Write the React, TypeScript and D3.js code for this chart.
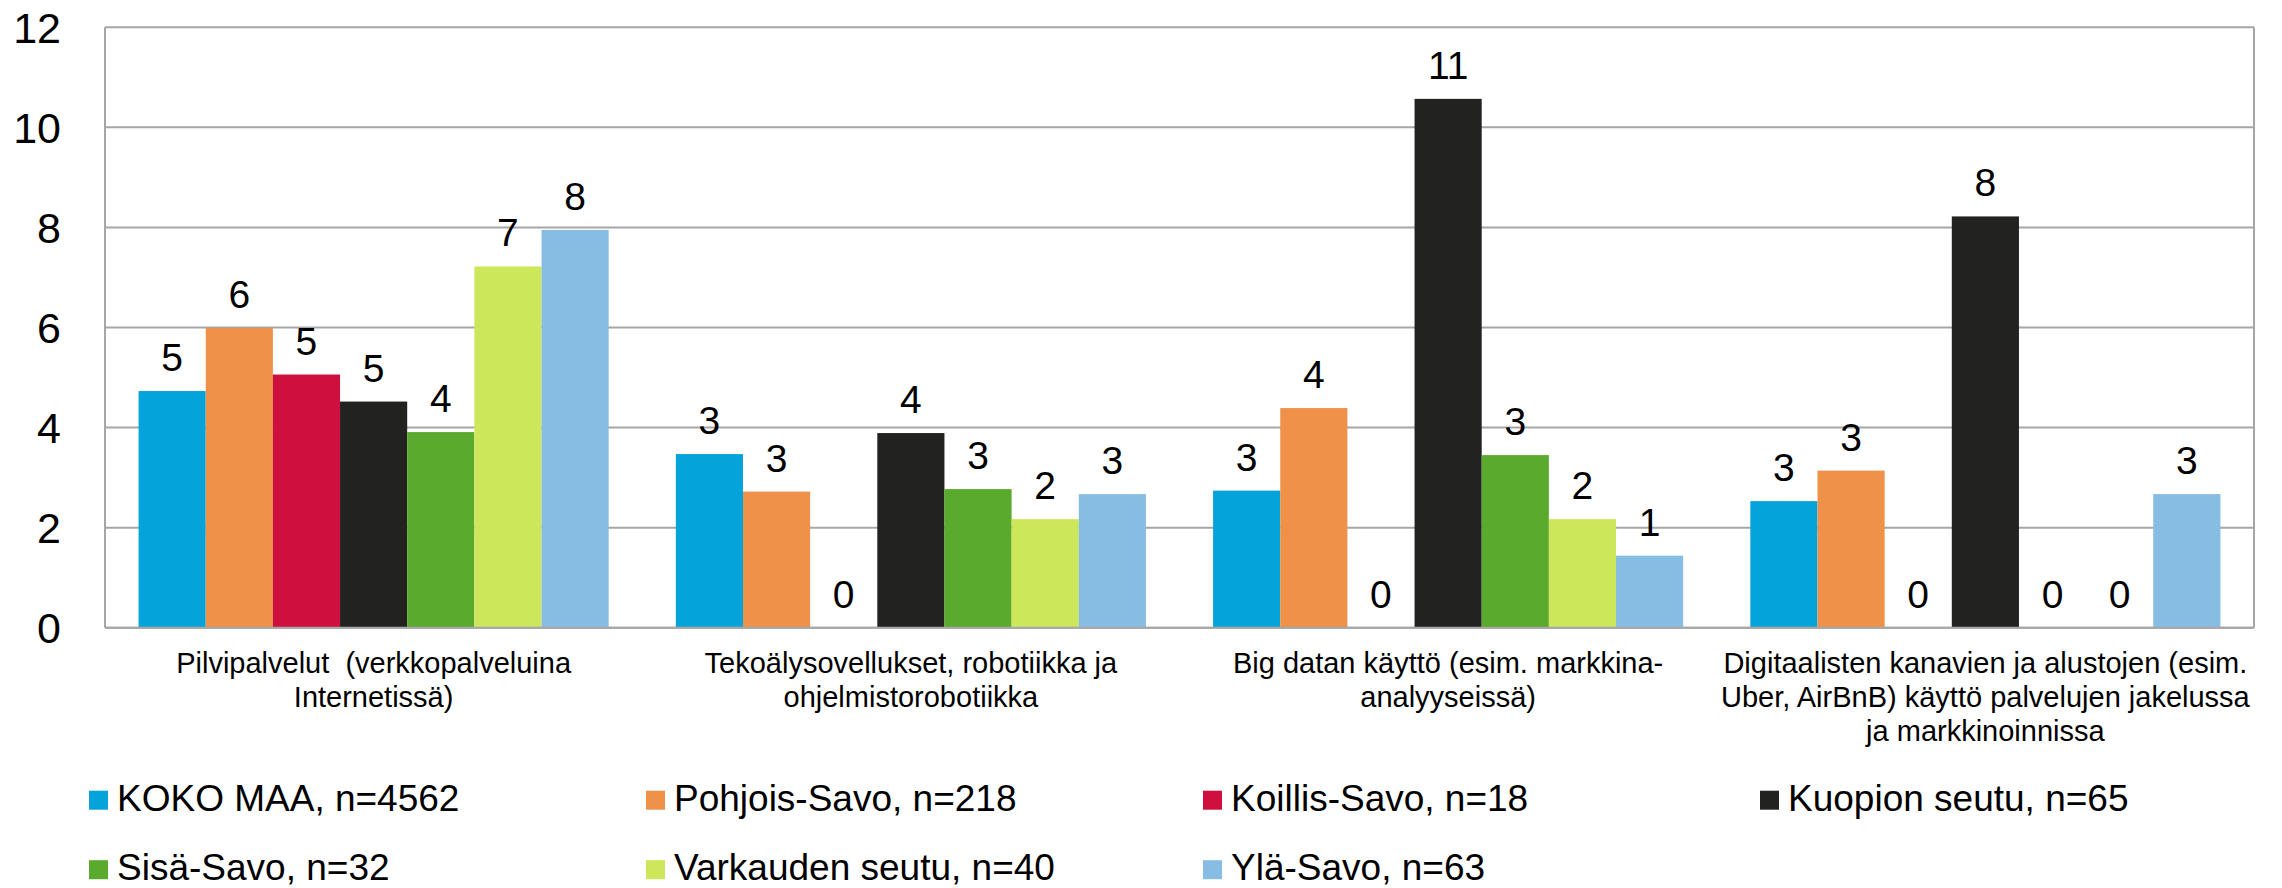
import React from "react";
import * as d3 from "d3";

const categories = [
  ["Pilvipalvelut  (verkkopalveluina", "Internetissä)"],
  ["Tekoälysovellukset, robotiikka ja", "ohjelmistorobotiikka"],
  ["Big datan käyttö (esim. markkina-", "analyyseissä)"],
  ["Digitaalisten kanavien ja alustojen (esim.", "Uber, AirBnB) käyttö palvelujen jakelussa", "ja markkinoinnissa"],
];

const seriesNames = [
  "KOKO MAA, n=4562",
  "Pohjois-Savo, n=218",
  "Koillis-Savo, n=18",
  "Kuopion seutu, n=65",
  "Sisä-Savo, n=32",
  "Varkauden seutu, n=40",
  "Ylä-Savo, n=63",
];

const kokoMaa = [4.73, 3.47, 2.74, 2.53];
const pohjoisSavo = [5.99, 2.72, 4.39, 3.14];
const koillisSavo = [5.06, 0, 0, 0];
const kuopionSeutu = [4.52, 3.89, 10.57, 8.22];
const sisaSavo = [3.91, 2.77, 3.45, 0];
const varkaudenSeutu = [7.22, 2.17, 2.17, 0];
const ylaSavo = [7.95, 2.67, 1.44, 2.67];

const seriesValues = [kokoMaa, pohjoisSavo, koillisSavo, kuopionSeutu, sisaSavo, varkaudenSeutu, ylaSavo];
const colors = ["#04A4DA", "#F0914A", "#CF0F3D", "#222220", "#5AAA2D", "#CDE75A", "#87BDE2"];
const yTicks = [0, 2, 4, 6, 8, 10, 12];

const FONT = "'Liberation Sans', Arial, Helvetica, sans-serif";

export default function App() {
  const W = 2282, H = 888;
  const left = 105, right = 2254, top = 27.3, bottom = 627.7;
  const catIdx = categories.map((_, i) => i);
  const x0 = d3.scaleBand<number>().domain(catIdx).range([left, right]).paddingInner(0).paddingOuter(0);
  const bw = x0.bandwidth();
  const x1 = d3.scaleBand<number>().domain(seriesNames.map((_, i) => i)).range([bw / 16, bw - bw / 16]).padding(0);
  const y = d3.scaleLinear().domain([0, 12]).range([bottom, top]);
  const fmt = d3.format(".0f");
  const gridColor = "#A6A6A6";

  return (
    <svg width={W} height={H} style={{ position: "absolute", left: 0, top: 0, display: "block", background: "#fff" }} fontFamily={FONT}>
      <rect x={0} y={0} width={W} height={H} fill="#fff" />
      {yTicks.map((t) => (
        <g key={t}>
          <line x1={left} x2={right} y1={y(t)} y2={y(t)} stroke={gridColor} strokeWidth={2} />
          <text x={61} y={y(t)} dy="0.36em" textAnchor="end" fontSize={43} fill="#000">{t}</text>
        </g>
      ))}
      {seriesValues.map((vals, si) =>
        vals.map((v, ci) => (
          <rect key={`${si}-${ci}`} x={(x0(ci) as number) + (x1(si) as number)} y={y(v)} width={x1.bandwidth()} height={bottom - y(v)} fill={colors[si]} />
        ))
      )}
      <line x1={left} x2={left} y1={top} y2={bottom} stroke={gridColor} strokeWidth={2} />
      <line x1={right} x2={right} y1={top} y2={bottom} stroke={gridColor} strokeWidth={2} />
      <line x1={left} x2={right} y1={bottom} y2={bottom} stroke={gridColor} strokeWidth={2} />
      {seriesValues.map((vals, si) =>
        vals.map((v, ci) => (
          <text key={`l${si}-${ci}`} x={(x0(ci) as number) + (x1(si) as number) + x1.bandwidth() / 2} y={y(v) - 20} textAnchor="middle" fontSize={39} fill="#000">{fmt(v)}</text>
        ))
      )}
      {categories.map((lines, ci) => (
        <text key={`c${ci}`} x={(x0(ci) as number) + bw / 2} y={673} textAnchor="middle" fontSize={29} fill="#000" style={{ whiteSpace: "pre" }}>
          {lines.map((ln, li) => (
            <tspan key={li} x={(x0(ci) as number) + bw / 2} dy={li === 0 ? 0 : 34}>{ln}</tspan>
          ))}
        </text>
      ))}
      {seriesNames.map((name, si) => {
        const col = si % 4;
        const row = Math.floor(si / 4);
        const lx = 89 + col * 557;
        const ly = 810.7 + row * 69.5;
        return (
          <g key={`lg${si}`}>
            <rect x={lx} y={ly - 20} width={19} height={19} fill={colors[si]} />
            <text x={lx + 28} y={ly} fontSize={37} fill="#000">{name}</text>
          </g>
        );
      })}
    </svg>
  );
}
